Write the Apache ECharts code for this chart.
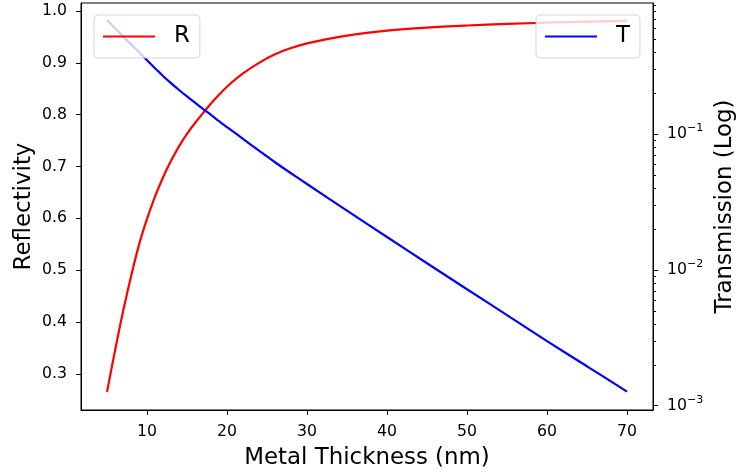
<!DOCTYPE html>
<html>
<head>
<meta charset="utf-8">
<script src="https://cdn.jsdelivr.net/npm/echarts@6/dist/echarts.min.js"></script>
<style>html,body{margin:0;padding:0;background:#fff}#c{width:736px;height:476px}</style>
</head>
<body>
<div id="c"></div>
<script>
// ---- data ----
var thickness = [5,6,7,8,9,10,11,12,13,14,15,16,17,18,19,20,22,24,26,28,30,35,40,45,50,55,60,65,70];
var reflectivity = [0.265,0.345,0.420,0.488,0.549,0.599,0.642,0.679,0.711,0.739,0.763,0.784,0.803,0.8215,0.8385,0.854,0.8795,0.900,0.9165,0.9285,0.9375,0.9525,0.962,0.968,0.972,0.975,0.9775,0.9795,0.981];
var transmission = [0.695,0.605,0.527,0.460,0.402,0.351,0.307,0.269,0.238,0.212,0.190,0.171,0.154,0.139,0.125,0.113,0.0925,0.0757,0.0622,0.0516,0.0430,0.0274,0.0175,0.0112,0.00721,0.00465,0.00299,0.00195,0.00127];
var xTicks = [10,20,30,40,50,60,70];
var rTicks = [0.3,0.4,0.5,0.6,0.7,0.8,0.9,1.0];
var tDecades = [0.001,0.01,0.1];
var tMinorMult = [2,3,4,5,6,7,8,9];

var xMin = 1.75, xMax = 73.25;
var rMin = 0.2306, rMax = 1.0154;
var tMin = 0.000929, tMax = 0.928;

var FONT = 'DejaVu Sans';
var TICKF = 15.7, NAMEF = 22.9;

var lgMin = Math.log10(tMin), lgMax = Math.log10(tMax);
var decadeLog = tDecades.map(function(v){return Math.round(Math.log10(v));});
var minorLog = [];
tDecades.forEach(function(d){
  tMinorMult.forEach(function(k){
    var v = Math.log10(k*d);
    if (v >= lgMin && v <= lgMax) minorLog.push(v);
  });
});

var chart = echarts.init(document.getElementById('c'), null, {renderer:'canvas'});
var axisLine = {show:true, lineStyle:{color:'#000', width:1}};
function legendBox(name, left){
  return {data:[{name:name, icon:'rect'}], left:left, top:15, orient:'horizontal', padding:[10,10,10,9],
    itemWidth:52, itemHeight:2,
    backgroundColor:'rgba(255,255,255,0.8)', borderColor:'rgba(204,204,204,0.8)', borderWidth:1, borderRadius:4,
    selectedMode:false, textStyle:{fontFamily:FONT, fontSize:NAMEF, color:'#000', padding:[0,0,0,14]}};
}
var option = {
  animation:false,
  backgroundColor:'#fff',
  textStyle:{fontFamily:FONT, color:'#000'},
  grid:{left:81, right:83, top:3, bottom:66, show:true, borderColor:'#000', borderWidth:1,
        containLabel:false, outerBoundsMode:'none'},
  legend:[legendBox('R', 94), legendBox('T', 536)],
  xAxis:[{
    type:'value', min:xMin, max:xMax,
    name:'Metal Thickness (nm)', nameLocation:'middle', nameGap:37, nameMoveOverlap:false,
    nameTextStyle:{fontFamily:FONT, fontSize:NAMEF, color:'#000'},
    axisLine:axisLine,
    axisTick:{show:true, inside:false, length:5, lineStyle:{color:'#000', width:1}, customValues:xTicks},
    axisLabel:{show:true, margin:14, fontFamily:FONT, fontSize:TICKF, color:'#000', customValues:xTicks},
    splitLine:{show:false}
  }],
  yAxis:[
    {
      type:'value', position:'left', min:rMin, max:rMax,
      name:'Reflectivity', nameLocation:'middle', nameGap:45, nameRotate:90, nameMoveOverlap:false,
      nameTextStyle:{fontFamily:FONT, fontSize:NAMEF, color:'#000'},
      axisLine:axisLine,
      axisTick:{show:true, length:5, lineStyle:{color:'#000', width:1}, customValues:rTicks},
      axisLabel:{show:true, margin:14, fontFamily:FONT, fontSize:TICKF, color:'#000', customValues:rTicks,
        formatter:function(v){return v.toFixed(1);}},
      splitLine:{show:false}
    },
    {
      type:'log', logBase:10, position:'right', min:tMin, max:tMax,
      axisLine:{show:false}, axisTick:{show:false}, axisLabel:{show:false}, splitLine:{show:false}
    },
    {
      type:'value', position:'right', min:lgMin, max:lgMax,
      name:'Transmission (Log)', nameLocation:'middle', nameGap:61, nameRotate:90, nameMoveOverlap:false,
      nameTextStyle:{fontFamily:FONT, fontSize:NAMEF, color:'#000'},
      axisLine:axisLine,
      axisTick:{show:true, length:5, lineStyle:{color:'#000', width:1}, customValues:decadeLog},
      axisLabel:{show:true, margin:14, customValues:decadeLog,
        formatter:function(v){return '{b|10}{s|\u2212' + Math.round(-v) + '}';},
        rich:{
          b:{fontFamily:FONT, fontSize:TICKF, color:'#000', verticalAlign:'middle', lineHeight:16},
          s:{fontFamily:FONT, fontSize:11, color:'#000', verticalAlign:'middle', lineHeight:11, padding:[0,0,12,0]}
        }},
      splitLine:{show:false}
    },
    {
      type:'value', position:'right', min:lgMin, max:lgMax,
      axisLine:{show:false},
      axisTick:{show:true, length:3, lineStyle:{color:'#000', width:1}, customValues:minorLog},
      axisLabel:{show:false}, splitLine:{show:false}
    }
  ],
  series:[
    {name:'R', type:'line', xAxisIndex:0, yAxisIndex:0, symbol:'none', smooth:0.35,
     lineStyle:{color:'#ff0000', width:2.2}, itemStyle:{color:'#ff0000'},
     data:thickness.map(function(x,i){return [x, reflectivity[i]];})},
    {name:'T', type:'line', xAxisIndex:0, yAxisIndex:1, symbol:'none', smooth:0.35,
     lineStyle:{color:'#0000ff', width:2.2}, itemStyle:{color:'#0000ff'},
     data:thickness.map(function(x,i){return [x, transmission[i]];})}
  ]
};
chart.setOption(option);
</script>
</body>
</html>
